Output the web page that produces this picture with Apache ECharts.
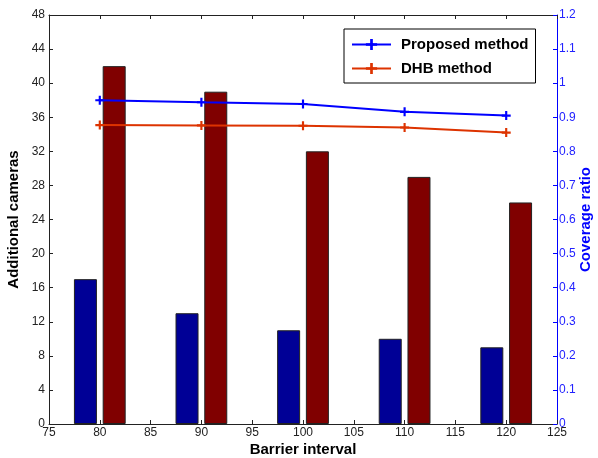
<!DOCTYPE html>
<html>
<head>
<meta charset="utf-8">
<script src="https://cdn.jsdelivr.net/npm/echarts@6/dist/echarts.min.js"></script>
<style>html,body{margin:0;padding:0;background:#fff}#c{width:598px;height:458px}</style>
</head>
<body>
<div id="c"></div>
<script>
var intervals = [80, 90, 100, 110, 120];
var proposedCameras = [17, 13, 11, 10, 9];
var dhbCameras = [42, 39, 32, 29, 26];
var proposedCoverage = [0.950, 0.944, 0.939, 0.916, 0.905];
var dhbCoverage = [0.877, 0.876, 0.875, 0.870, 0.855];

function pairs(xs, ys) { return xs.map(function (x, i) { return [x, ys[i]]; }); }

var plusPath = 'path://M-1.2,-5L1.2,-5L1.2,-1.2L5,-1.2L5,1.2L1.2,1.2L1.2,5L-1.2,5L-1.2,1.2L-5,1.2L-5,-1.2L-1.2,-1.2Z M0,-2.6L2.6,0L0,2.6L-2.6,0Z';

var chart = echarts.init(document.getElementById('c'), null, {renderer: 'canvas'});
var font = 'Liberation Sans, Arial, sans-serif';
chart.setOption({
  backgroundColor: '#ffffff',
  animation: false,
  textStyle: {fontFamily: font},
  grid: {left: 49, right: 41, top: 15, bottom: 34, containLabel: false, outerBoundsMode: 'none'},
  legend: {
    orient: 'vertical', left: 344, top: 29,
    data: ['Proposed method', 'DHB method'],
    itemWidth: 39, itemHeight: 14, itemGap: 9,
    padding: [8, 7, 7, 7],
    borderColor: '#000', borderWidth: 1, backgroundColor: '#fff',
    textStyle: {fontSize: 15, fontWeight: 'bold', color: '#000', fontFamily: font, padding: [0, 0, 0, 5]}
  },
  xAxis: [{
    type: 'value', min: 75, max: 125, interval: 5,
    name: 'Barrier interval', nameLocation: 'middle', nameGap: 18, nameMoveOverlap: false,
    nameTextStyle: {fontSize: 15, fontWeight: 'bold', color: '#000', fontFamily: font},
    axisLine: {show: true, onZero: false, lineStyle: {color: '#222', width: 1}},
    axisTick: {show: true, inside: true, length: 4, lineStyle: {color: '#222'}},
    axisLabel: {fontSize: 12, color: '#222', margin: 3, fontFamily: font},
    splitLine: {show: false}
  }, {
    type: 'value', min: 75, max: 125, interval: 5, position: 'top',
    axisLine: {show: true, onZero: false, lineStyle: {color: '#222', width: 1}},
    axisTick: {show: true, inside: true, length: 4, lineStyle: {color: '#222'}},
    axisLabel: {show: false}, splitLine: {show: false}
  }],
  yAxis: [{
    type: 'value', min: 0, max: 48, interval: 4, position: 'left',
    name: 'Additional cameras', nameLocation: 'middle', nameGap: 28, nameRotate: 90, nameMoveOverlap: false,
    nameTextStyle: {fontSize: 15, fontWeight: 'bold', color: '#000', fontFamily: font},
    axisLine: {show: true, onZero: false, lineStyle: {color: '#222', width: 1}},
    axisTick: {show: true, inside: true, length: 4, lineStyle: {color: '#222'}},
    axisLabel: {fontSize: 12, color: '#222', margin: 4, fontFamily: font},
    splitLine: {show: false}
  }, {
    type: 'value', min: 0, max: 1.2, interval: 0.1, position: 'right',
    name: 'Coverage ratio', nameLocation: 'middle', nameGap: 21, nameRotate: 90, nameMoveOverlap: false,
    nameTextStyle: {fontSize: 15, fontWeight: 'bold', color: '#0000ff', fontFamily: font},
    axisLine: {show: true, onZero: false, lineStyle: {color: '#0000ff', width: 1}},
    axisTick: {show: true, inside: true, length: 4, lineStyle: {color: '#0000ff'}},
    axisLabel: {fontSize: 12, color: '#2222ff', margin: 2, fontFamily: font},
    splitLine: {show: false}
  }],
  series: [{
    name: 'Proposed cameras', type: 'bar', xAxisIndex: 0, yAxisIndex: 0,
    data: pairs(intervals, proposedCameras),
    barWidth: 23, barGap: '25%',
    itemStyle: {color: '#000096', borderColor: '#222', borderWidth: 1}
  }, {
    name: 'DHB cameras', type: 'bar', xAxisIndex: 0, yAxisIndex: 0,
    data: pairs(intervals, dhbCameras),
    barWidth: 23, barGap: '25%',
    itemStyle: {color: '#800000', borderColor: '#222', borderWidth: 1}
  }, {
    name: 'Proposed method', type: 'line', xAxisIndex: 0, yAxisIndex: 1,
    data: pairs(intervals, proposedCoverage),
    symbol: plusPath, symbolSize: 9, z: 5,
    lineStyle: {color: '#0000ff', width: 2},
    itemStyle: {color: '#0000ff'}
  }, {
    name: 'DHB method', type: 'line', xAxisIndex: 0, yAxisIndex: 1,
    data: pairs(intervals, dhbCoverage),
    symbol: plusPath, symbolSize: 9, z: 5,
    lineStyle: {color: '#dd3300', width: 2},
    itemStyle: {color: '#dd3300'}
  }]
});
</script>
</body>
</html>
